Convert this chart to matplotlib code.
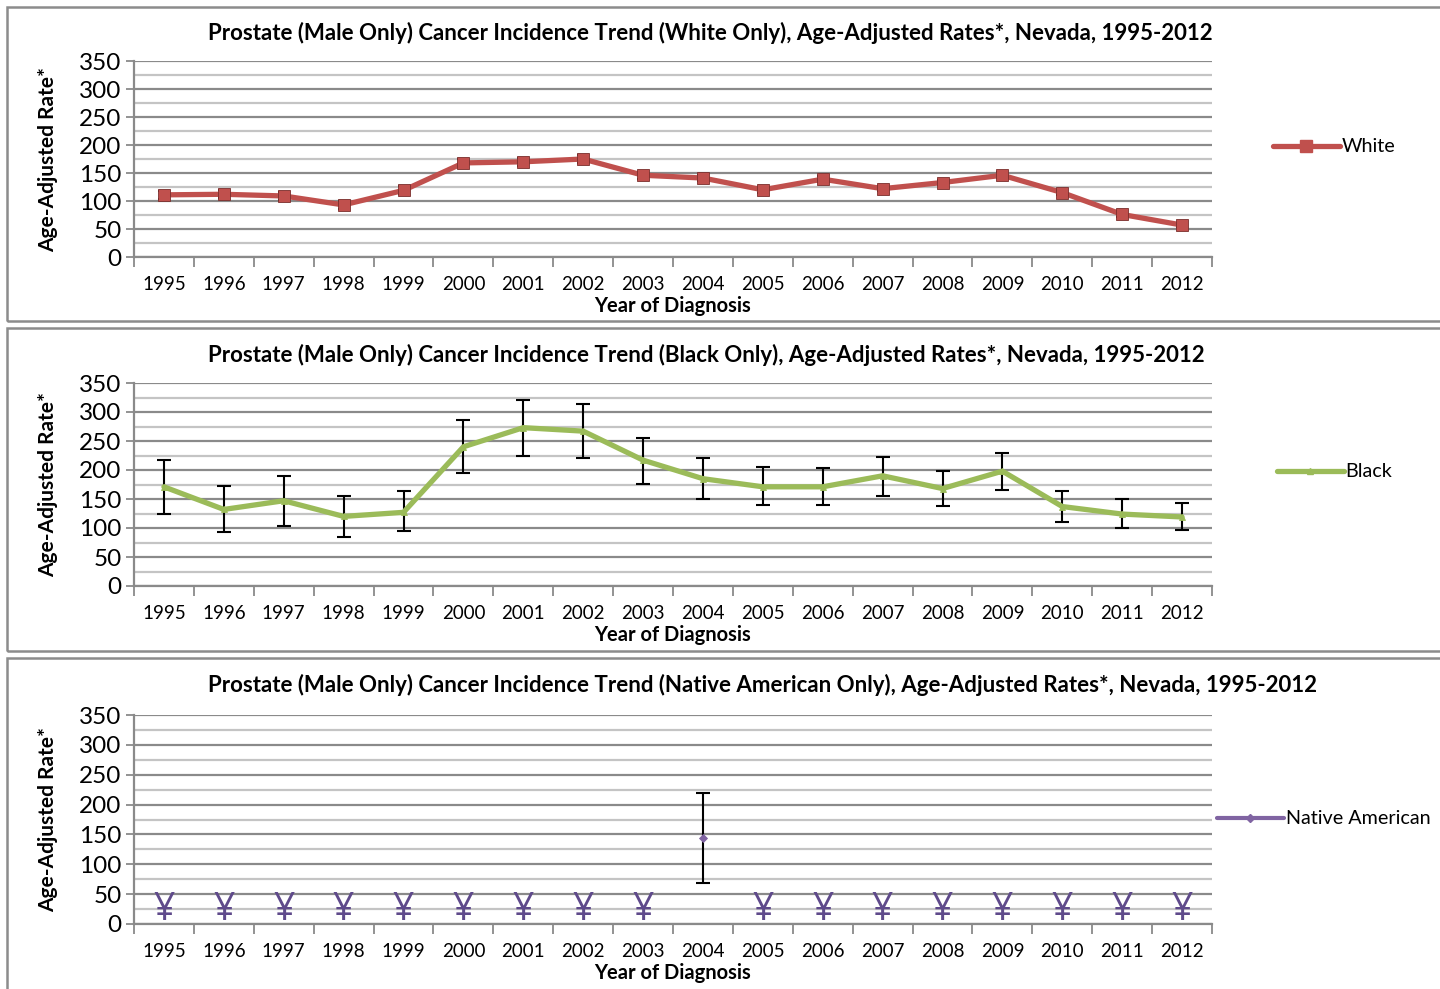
import numpy as np
import matplotlib
matplotlib.use("Agg")
import matplotlib.pyplot as plt
from matplotlib.patches import Rectangle
from matplotlib.lines import Line2D

plt.rcParams['font.family'] = ['Lato', 'DejaVu Sans']

years = [str(y) for y in range(1995, 2013)]

# White
white_rate = [111, 112, 109, 93, 119, 168, 170, 175, 146, 141,
              120, 139, 122, 133, 146, 115, 76, 57]
white_lo = [104, 105, 102, 86, 112, 161, 163, 168, 140, 135,
            115, 134, 117, 128, 141, 110, 72, 53]
white_hi = [118, 119, 116, 100, 126, 175, 177, 182, 152, 147,
            125, 144, 127, 138, 151, 120, 80, 61]

# Black
black_rate = [171, 132, 147, 120, 127, 240, 273, 267, 217, 185,
              171, 171, 190, 168, 198, 137, 124, 119]
black_lo = [125, 93, 104, 84, 94, 194, 224, 220, 176, 150,
            139, 139, 156, 138, 165, 111, 100, 96]
black_hi = [217, 172, 190, 156, 163, 287, 321, 314, 255, 220,
            205, 203, 223, 199, 230, 164, 150, 143]

# Native American (nan = suppressed, shown as ¥)
na_rate = [np.nan] * 9 + [144] + [np.nan] * 8
na_lo = [np.nan] * 9 + [69] + [np.nan] * 8
na_hi = [np.nan] * 9 + [219] + [np.nan] * 8
na_suppressed = [True] * 9 + [False] + [True] * 8

W, H = 1440, 989
fig = plt.figure(figsize=(W / 100, H / 100), dpi=100)

# panel frames (pixels: top, bottom)
frames = [(7, 321), (328, 651), (658, 995)]
for top, bot in frames:
    fig.patches.append(Rectangle((7 / W, 1 - bot / H), (W + 20) / W, (bot - top) / H,
                                 transform=fig.transFigure, fill=False,
                                 edgecolor='#8c8c8c', lw=1.8, clip_on=False))

# axes boxes (pixels: top, bottom)
ax_px = [(61, 257), (383, 586), (715, 924)]
titles = [
    "Prostate (Male Only) Cancer Incidence Trend (White Only), Age-Adjusted Rates*, Nevada, 1995-2012",
    "Prostate (Male Only) Cancer Incidence Trend (Black Only), Age-Adjusted Rates*, Nevada, 1995-2012",
    "Prostate (Male Only) Cancer Incidence Trend (Native American Only), Age-Adjusted Rates*, Nevada, 1995-2012",
]
title_y = [33, 355, 685]

series = [
    ("White", white_rate, white_lo, white_hi, '#C0504D', 's', 8),
    ("Black", black_rate, black_lo, black_hi, '#9BBB59', '^', 5),
    ("Native American", na_rate, na_lo, na_hi, '#8064A2', 'D', 4),
]
legend_pos = [(1280, 147), (1284, 472), (1224, 819)]

x = np.arange(len(years))
left, right = 134, 1212

for i, (top, bot) in enumerate(ax_px):
    ax = fig.add_axes([left / W, 1 - bot / H, (right - left) / W, (bot - top) / H])
    name, rate, lo, hi, color, mk, ms = series[i]
    rate = np.array(rate, dtype=float)
    yerr = [rate - np.array(lo, dtype=float), np.array(hi, dtype=float) - rate]

    ax.set_xlim(-0.5, len(years) - 0.5)
    ax.set_ylim(0, 350)
    ax.set_yticks(np.arange(0, 351, 50))
    ax.set_yticks(np.arange(25, 350, 50), minor=True)
    ax.yaxis.grid(True, which='major', color='#8a8a8a', lw=1.6)
    ax.yaxis.grid(True, which='minor', color='#c4c4c4', lw=1.6)
    ax.set_axisbelow(True)

    ax.set_xticks(np.arange(-0.5, len(years), 1.0))
    ax.set_xticklabels([])
    ax.set_xticks(x, minor=True)
    ax.set_xticklabels(years, minor=True, fontsize=13.5)
    ax.tick_params(axis='x', which='major', length=7, width=1.3, color='#8a8a8a', direction='out')
    ax.tick_params(axis='x', which='minor', length=0, pad=14)
    ax.tick_params(axis='y', which='major', length=6, width=1.3, color='#8a8a8a',
                   labelsize=17.5, pad=3)
    ax.tick_params(axis='y', which='minor', length=0)

    for s in ['top', 'right']:
        ax.spines[s].set_visible(False)
    for s in ['left', 'bottom']:
        ax.spines[s].set_color('#8a8a8a')
        ax.spines[s].set_linewidth(1.6)

    lw = 3.8 if i < 2 else 3
    ax.errorbar(x, rate, yerr=yerr, fmt='none', ecolor='black', elinewidth=1.5,
                capsize=5 if i > 0 else 4, capthick=1.5, zorder=3)
    ax.plot(x, rate, color=color, lw=lw, marker=mk, markersize=ms,
            markeredgecolor=color if i > 0 else '#7a2e2c', markeredgewidth=0.6,
            solid_capstyle='round', zorder=4)

    if i == 2:
        for xi, sup in zip(x, na_suppressed):
            if sup:
                ax.text(xi, 23, '¥', ha='center', va='center', fontsize=27,
                        color='#5F4A8B', family=['Open Sans', 'DejaVu Sans'], zorder=5)

    ax.text((48 - left) / (right - left), 0.5, "Age-Adjusted Rate*", transform=ax.transAxes,
            rotation=90, ha='center', va='center', fontsize=15, fontweight='bold')
    ax.text(0.5, -(49 / (bot - top)), "Year of Diagnosis", transform=ax.transAxes,
            ha='center', va='center', fontsize=14.5, fontweight='bold')

    fig.text(208 / W, 1 - title_y[i] / H, titles[i], ha='left', va='center',
             fontsize=16, fontweight='bold')

    lx, ly = legend_pos[i]
    h = Line2D([0], [0], color=color, lw=lw, marker=mk, markersize=ms,
               markeredgecolor=color, solid_capstyle='round')
    fig.legend([h], [name], loc='center left',
               bbox_to_anchor=(lx / W - 0.012, 1 - ly / H), frameon=False,
               fontsize=14.2, handlelength=3.4, handletextpad=0.1, borderpad=0)

fig.savefig("out.png", dpi=100)
